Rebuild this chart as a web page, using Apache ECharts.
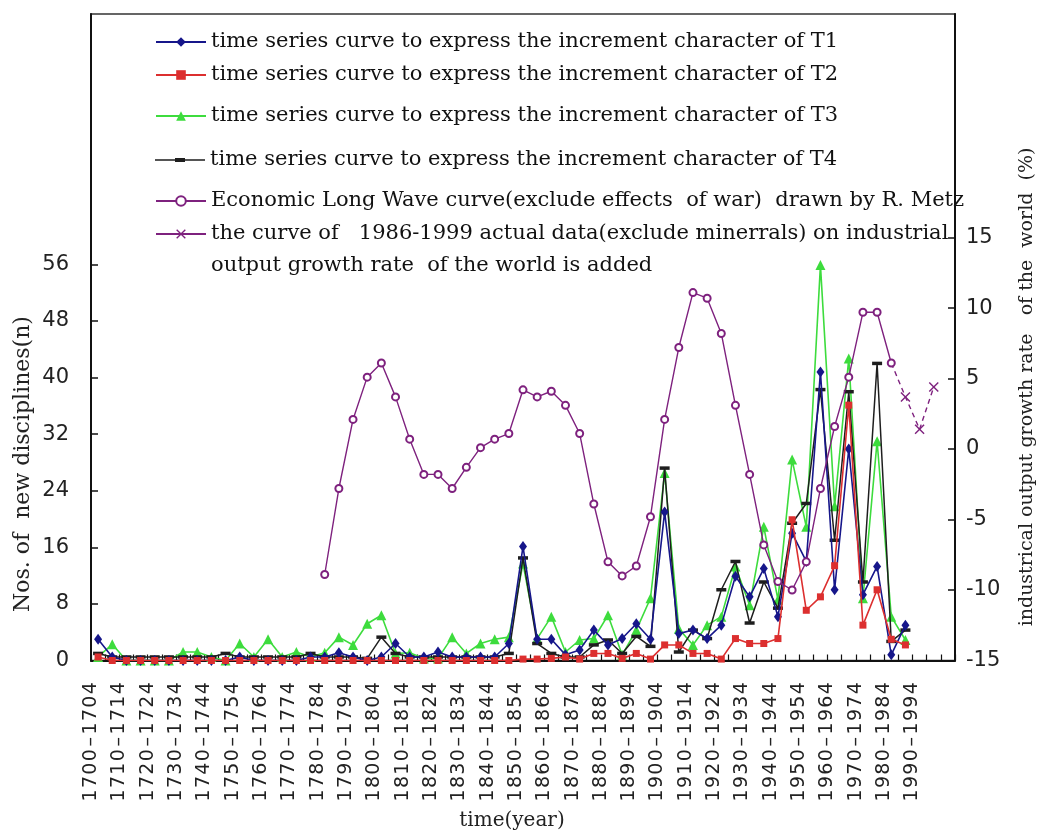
<!DOCTYPE html>
<html>
<head>
<meta charset="utf-8">
<script src="https://cdn.jsdelivr.net/npm/echarts@6/dist/echarts.min.js"></script>
<style>html,body{margin:0;padding:0;background:#fff}#c{width:1041px;height:834px}</style>
</head>
<body>
<div id="c"></div>
<script>
// ---- categories (5-year periods) ----
const periods = ['1700–1704','1705–1709','1710–1714','1715–1719','1720–1724','1725–1729','1730–1734','1735–1739','1740–1744','1745–1749',
'1750–1754','1755–1759','1760–1764','1765–1769','1770–1774','1775–1779','1780–1784','1785–1789','1790–1794','1795–1799',
'1800–1804','1805–1809','1810–1814','1815–1819','1820–1824','1825–1829','1830–1834','1835–1839','1840–1844','1845–1849',
'1850–1854','1855–1859','1860–1864','1865–1869','1870–1874','1875–1879','1880–1884','1885–1889','1890–1894','1895–1899',
'1900–1904','1905–1909','1910–1914','1915–1919','1920–1924','1925–1929','1930–1934','1935–1939','1940–1944','1945–1949',
'1950–1954','1955–1959','1960–1964','1965–1969','1970–1974','1975–1979','1980–1984','1985–1989','1990–1994','1995–1999','2000–2004'];

// ---- series values (left axis: number of new disciplines) ----
const t1 = [3.0,0.5,0,0,0,0,0,0,0,0,
  0.5,0,0,0,0,0.5,0.5,1.1,0.5,0,
  0.5,2.4,0.5,0.5,1.2,0.5,0.5,0.5,0.5,2.4,
  16.1,3.0,3.0,0.8,1.5,4.3,2.2,3.1,5.2,3.0,
  21.0,3.8,4.3,3.1,5.0,11.9,9.0,13.0,6.2,18.0,
  14.0,40.8,10.0,29.9,9.3,13.3,0.8,5.0,null,null,null];
const t2 = [0.5,0,0,0,0,0,0,0,0,0,
  0,0,0,0,0,0,0,0,0,0,
  0,0,0,0,0,0,0,0,0,0,
  0.2,0.2,0.3,0.5,0.2,1.0,1.0,0.3,1.0,0.2,
  2.2,2.2,1.0,1.0,0.2,3.1,2.4,2.4,3.1,19.9,
  7.1,9.0,13.4,36.1,5.0,10.0,3.0,2.2,null,null,null];
const t3 = [0.5,2.3,0,0,0,0,1.2,1.2,0.5,0,
  2.4,0.5,3.0,0.5,1.2,0.5,1.1,3.3,2.2,5.2,
  6.4,1.0,1.1,0.3,0.3,3.3,1.0,2.4,3.0,3.3,
  13.7,3.1,6.2,1.2,2.9,3.1,6.4,0.8,4.3,8.8,
  26.5,4.5,2.2,5.0,6.2,13.3,7.8,18.9,8.6,28.4,
  18.9,55.9,21.8,42.7,8.8,31.0,6.2,2.9,null,null,null];
const t4 = [1.0,0.5,0.5,0.5,0.5,0.5,0.5,0.5,0.5,1.0,
  0.5,0.5,0.5,0.5,0.5,1.0,0.5,0.5,0.5,0.3,
  3.3,1.0,0.5,0.5,0.5,0.5,0.5,0.5,0.5,1.0,
  14.5,2.4,1.0,0.5,0.5,2.2,2.9,1.0,3.4,2.0,
  27.2,1.2,4.3,3.1,10.0,14.0,5.3,11.1,7.4,19.4,
  22.2,38.3,17.0,38.0,11.1,42.0,2.7,4.3,null,null,null];

// ---- right axis: industrial output growth rate (%) ----
const metzWave = Array(16).fill(null).concat([
  -8.9,-2.8,2.1,5.1,6.1,3.7,0.7,-1.8,-1.8,-2.8,
  -1.3,0.1,0.7,1.1,4.2,3.7,4.1,3.1,1.1,-3.9,
  -8.0,-9.0,-8.3,-4.8,2.1,7.2,11.1,10.7,8.2,3.1,
  -1.8,-6.8,-9.4,-10.0,-8.0,-2.8,1.6,5.1,9.7,9.7,6.1
]).concat([null,null,null,null]);
const actualGrowth = Array(57).fill(null).concat([3.7,1.4,4.4,null]);

// ---- tick labels ----
const leftTicks = [0,8,16,24,32,40,48,56];
const rightTicks = [-15,-10,-5,0,5,10,15];

const names = [
  'time series curve to express the increment character of T1',
  'time series curve to express the increment character of T2',
  'time series curve to express the increment character of T3',
  'time series curve to express the increment character of T4',
  'Economic Long Wave curve(exclude effects  of war)  drawn by R. Metz',
  'the curve of   1986-1999 actual data(exclude minerrals) on industrial output growth rate  of the world is added'
];

const C_BLUE='#16168a', C_RED='#dc2f2f', C_GREEN='#3ddc3d', C_BLACK='#1e1e1e', C_PURPLE='#7e217e';
const X_PATH='path://M0,1L1,0L5,4L9,0L10,1L6,5L10,9L9,10L5,6L1,10L0,9L4,5Z';
const DASH_PATH='path://M0,0H10V3H0Z';

const legendFont = {fontFamily:'DejaVu Serif', fontSize:21, color:'#111', lineHeight:24};
const legendRows = [42, 75, 116, 160, 201];
const legends = legendRows.map((cy,i)=>{
  const item = {name:names[i]};
  if (i===3) item.icon = 'path://M0,5H50V6.4H0Z M20,3.6H30V7.8H20Z';
  return {data:[item], left:155, top:cy-12, padding:0, itemWidth:50, itemHeight:12,
    selectedMode:false, textStyle:legendFont};
});
legends.push({data:[{name:names[5], lineStyle:{type:'solid'}}], left:155, top:234-48, padding:0,
  itemWidth:50, itemHeight:12, selectedMode:false,
  formatter:function(){return ' \nthe curve of   1986-1999 actual data(exclude minerrals) on industrial\noutput growth rate  of the world is added';},
  textStyle:{fontFamily:'DejaVu Serif', fontSize:21, color:'#111', lineHeight:32}});

const labelCats = periods.concat(['']);

const chart = echarts.init(document.getElementById('c'), null, {renderer:'canvas'});
chart.setOption({
  animation:false,
  backgroundColor:'#fff',
  grid:{left:91, right:86, top:14, bottom:173.5, show:true, borderColor:'#333', borderWidth:1.5, backgroundColor:'transparent'},
  legend:legends,
  xAxis:[
    {type:'category', data:periods, boundaryGap:true, position:'bottom',
      axisLine:{show:true, lineStyle:{color:'#111', width:2}},
      axisTick:{show:true, inside:true, length:6, interval:0, lineStyle:{color:'#111', width:1.2}},
      axisLabel:{show:false}, splitLine:{show:false}},
    {type:'category', data:labelCats, boundaryGap:false, position:'bottom',
      axisLine:{show:false}, axisTick:{show:false}, splitLine:{show:false},
      axisLabel:{show:true, rotate:90, margin:21, fontSize:19, fontFamily:'DejaVu Sans', color:'#222',
        interval:function(i){return i%2===0 && i<=58;},
        formatter:function(v){return v.split('').map(ch=>'{c|'+ch+'}').join('');},
        rich:{c:{width:13.4, align:'center', fontFamily:'DejaVu Sans', fontSize:19, color:'#222'}}}}
  ],
  yAxis:[
    {type:'value', min:0, max:91.4, position:'left',
      axisLine:{show:true, lineStyle:{color:'#111', width:2}},
      axisTick:{show:true, inside:true, length:7, customValues:leftTicks, lineStyle:{color:'#111', width:1.5}},
      axisLabel:{customValues:leftTicks, margin:22, fontFamily:'DejaVu Sans', fontSize:21, color:'#222'},
      splitLine:{show:false}},
    {type:'value', min:-15, max:30.86, position:'right',
      axisLine:{show:true, lineStyle:{color:'#111', width:2}},
      axisTick:{show:true, inside:true, length:7, customValues:rightTicks, lineStyle:{color:'#111', width:1.5}},
      axisLabel:{customValues:rightTicks, margin:11, fontFamily:'DejaVu Sans', fontSize:21, color:'#222'},
      splitLine:{show:false}}
  ],
  series:[
    {name:names[2], type:'line', data:t3, yAxisIndex:0, symbol:'triangle', symbolSize:10, showAllSymbol:true,
      lineStyle:{color:C_GREEN, width:1.6}, itemStyle:{color:C_GREEN}, z:2},
    {name:names[3], type:'line', data:t4, yAxisIndex:0, symbol:DASH_PATH, symbolSize:[10,3.5], showAllSymbol:true,
      lineStyle:{color:C_BLACK, width:1.5}, itemStyle:{color:C_BLACK}, z:3},
    {name:names[0], type:'line', data:t1, yAxisIndex:0, symbol:'diamond', symbolSize:[8,11], showAllSymbol:true,
      lineStyle:{color:C_BLUE, width:1.6}, itemStyle:{color:C_BLUE}, z:4},
    {name:names[1], type:'line', data:t2, yAxisIndex:0, symbol:'rect', symbolSize:7, showAllSymbol:true,
      lineStyle:{color:C_RED, width:1.6}, itemStyle:{color:C_RED}, z:5},
    {name:names[4], type:'line', data:metzWave, yAxisIndex:1, symbol:'emptyCircle', symbolSize:7, showAllSymbol:true,
      lineStyle:{color:C_PURPLE, width:1.4}, itemStyle:{color:C_PURPLE, borderWidth:1.4}, z:6},
    {name:names[5], type:'line', yAxisIndex:1, symbol:X_PATH, symbolSize:10, showAllSymbol:true,
      data:actualGrowth.map((v,i)=> i===56 ? {value:metzWave[56], symbol:'none'} : v),
      lineStyle:{color:C_PURPLE, width:1.4, type:[5,4]}, itemStyle:{color:C_PURPLE}, z:6}
  ],
  graphic:[
    {type:'text', x:23, y:464, rotation:Math.PI/2,
      style:{text:'Nos. of  new disciplines(n)', font:'22px "DejaVu Serif"', fill:'#222', align:'center', verticalAlign:'middle'}},
    {type:'text', x:1027, y:387, rotation:Math.PI/2,
      style:{text:'industrical output growth rate   of the  world  (%)', font:'19px "DejaVu Serif"', fill:'#222', align:'center', verticalAlign:'middle'}},
    {type:'text', x:512, y:821,
      style:{text:'time(year)', font:'20px "DejaVu Serif"', fill:'#222', align:'center', verticalAlign:'middle'}}
  ]
});
</script>
</body>
</html>
